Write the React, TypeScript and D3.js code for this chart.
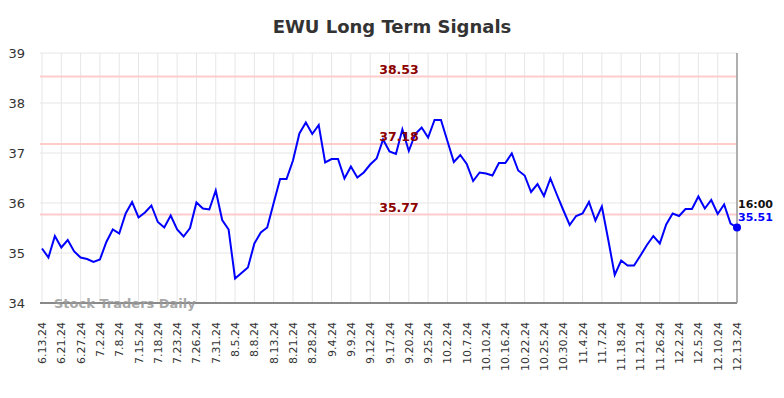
import React, { useEffect, useRef } from 'react';
import * as d3 from 'd3';

// tick labels shown every third point
const tickLabels = [
  '6.13.24', '6.21.24', '6.27.24', '7.2.24', '7.8.24', '7.15.24', '7.18.24', '7.23.24',
  '7.26.24', '7.31.24', '8.5.24', '8.8.24', '8.13.24', '8.21.24', '8.28.24', '9.4.24',
  '9.9.24', '9.12.24', '9.17.24', '9.20.24', '9.25.24', '10.2.24', '10.7.24', '10.10.24',
  '10.16.24', '10.22.24', '10.25.24', '10.30.24', '11.4.24', '11.7.24', '11.18.24',
  '11.21.24', '11.26.24', '12.2.24', '12.5.24', '12.10.24', '12.13.24',
];

const prices = [
  35.09, 34.91, 35.34, 35.11, 35.26, 35.03, 34.91, 34.88, 34.82, 34.87,
  35.22, 35.47, 35.39, 35.79, 36.02, 35.71, 35.81, 35.95, 35.62, 35.51,
  35.75, 35.47, 35.33, 35.5, 36.01, 35.89, 35.87, 36.25, 35.66, 35.47,
  34.49, 34.6, 34.71, 35.19, 35.41, 35.51, 36.0, 36.48, 36.48, 36.85,
  37.39, 37.61, 37.38, 37.56, 36.81, 36.88, 36.88, 36.49, 36.73, 36.51,
  36.61, 36.77, 36.89, 37.27, 37.03, 36.98, 37.47, 37.04, 37.38, 37.51,
  37.31, 37.66, 37.66, 37.24, 36.82, 36.96, 36.78, 36.44, 36.61, 36.59,
  36.55, 36.8, 36.8, 36.99, 36.65, 36.55, 36.22, 36.38, 36.14, 36.49,
  36.17, 35.86, 35.56, 35.74, 35.79, 36.02, 35.65, 35.93, 35.26, 34.56,
  34.85, 34.75, 34.75, 34.95, 35.16, 35.34, 35.19, 35.57, 35.79, 35.74,
  35.88, 35.88, 36.13, 35.89, 36.06, 35.78, 35.97, 35.59, 35.51,
];

const signalLevels = [38.53, 37.18, 35.77];
const yTicks = [34, 35, 36, 37, 38, 39];
const lastTime = '16:00';

const W = 784;
const H = 398;

const App: React.FC = () => {
  const svgRef = useRef<SVGSVGElement>(null);

  useEffect(() => {
    if (!svgRef.current) return;
    const svg = d3.select(svgRef.current);
    svg.selectAll('*').remove();

    const margin = { top: 53, right: 47, bottom: 95, left: 42 };
    const x = d3.scaleLinear().domain([0, prices.length - 1]).range([margin.left, W - margin.right]);
    const y = d3.scaleLinear().domain([34, 39]).range([H - margin.bottom, margin.top]);
    const font = 'DejaVu Sans, sans-serif';

    // title
    svg.append('text')
      .attr('x', W / 2)
      .attr('y', 33)
      .attr('text-anchor', 'middle')
      .style('font-family', font)
      .style('font-size', '18px')
      .style('font-weight', 'bold')
      .style('fill', '#333')
      .text('EWU Long Term Signals');

    // grid
    const tickIdx = tickLabels.map((_, i) => i * 3);
    svg.append('g')
      .selectAll('line')
      .data(tickIdx)
      .enter()
      .append('line')
      .attr('x1', (d) => x(d))
      .attr('x2', (d) => x(d))
      .attr('y1', y(39))
      .attr('y2', y(34))
      .style('stroke', '#e6e6e6')
      .style('stroke-width', 1);

    svg.append('g')
      .selectAll('line')
      .data(yTicks)
      .enter()
      .append('line')
      .attr('x1', margin.left - 2)
      .attr('x2', W - margin.right)
      .attr('y1', (d) => y(d))
      .attr('y2', (d) => y(d))
      .style('stroke', '#e6e6e6')
      .style('stroke-width', 1);

    // y labels
    svg.append('g')
      .selectAll('text')
      .data(yTicks)
      .enter()
      .append('text')
      .attr('x', 25)
      .attr('y', (d) => y(d) + 5)
      .attr('text-anchor', 'end')
      .style('font-family', font)
      .style('font-size', '13px')
      .style('fill', '#333')
      .text((d) => d);

    // x labels
    svg.append('g')
      .selectAll('text')
      .data(tickLabels)
      .enter()
      .append('text')
      .attr('transform', (_, i) => `translate(${x(i * 3) + 4},322) rotate(-90)`)
      .attr('text-anchor', 'end')
      .style('font-family', font)
      .style('font-size', '11px')
      .style('fill', '#333')
      .text((d) => d);

    // signal lines
    svg.append('g')
      .selectAll('line')
      .data(signalLevels)
      .enter()
      .append('line')
      .attr('x1', margin.left - 2)
      .attr('x2', W - margin.right)
      .attr('y1', (d) => y(d))
      .attr('y2', (d) => y(d))
      .style('stroke', '#ffcccc')
      .style('stroke-width', 2);

    // axes lines
    svg.append('line')
      .attr('x1', margin.left - 2)
      .attr('x2', W - margin.right)
      .attr('y1', y(34))
      .attr('y2', y(34))
      .style('stroke', '#666')
      .style('stroke-width', 1.5);
    svg.append('line')
      .attr('x1', W - margin.right)
      .attr('x2', W - margin.right)
      .attr('y1', y(39))
      .attr('y2', y(34))
      .style('stroke', '#999')
      .style('stroke-width', 1.5);

    // watermark
    svg.append('text')
      .attr('x', 54)
      .attr('y', 308)
      .style('font-family', font)
      .style('font-size', '13px')
      .style('font-weight', 'bold')
      .style('fill', '#999')
      .style('opacity', 0.85)
      .text('Stock Traders Daily');

    // price line
    const line = d3.line<number>()
      .x((_, i) => x(i))
      .y((d) => y(d));
    svg.append('path')
      .datum(prices)
      .attr('d', line)
      .style('fill', 'none')
      .style('stroke', '#0000ff')
      .style('stroke-width', 2);

    // signal labels
    svg.append('g')
      .selectAll('text')
      .data(signalLevels)
      .enter()
      .append('text')
      .attr('x', 399)
      .attr('y', (d) => y(d) - 3)
      .attr('text-anchor', 'middle')
      .style('font-family', font)
      .style('font-size', '12.5px')
      .style('font-weight', 'bold')
      .style('fill', '#8b0000')
      .text((d) => d.toFixed(2));

    // last point
    const last = prices[prices.length - 1];
    const lx = x(prices.length - 1);
    svg.append('circle')
      .attr('cx', lx)
      .attr('cy', y(last))
      .attr('r', 4)
      .style('fill', '#0000ff');
    svg.append('text')
      .attr('x', lx + 1)
      .attr('y', 208)
      .style('font-family', font)
      .style('font-size', '11px')
      .style('font-weight', 'bold')
      .style('fill', '#111')
      .text(lastTime);
    svg.append('text')
      .attr('x', lx + 1)
      .attr('y', 221)
      .style('font-family', font)
      .style('font-size', '11px')
      .style('font-weight', 'bold')
      .style('fill', '#0000ff')
      .text(last.toFixed(2));
  }, []);

  return (
    <svg
      ref={svgRef}
      width={W}
      height={H}
      style={{ position: 'absolute', left: 0, top: 0, background: '#fff' }}
    />
  );
};

export default App;
